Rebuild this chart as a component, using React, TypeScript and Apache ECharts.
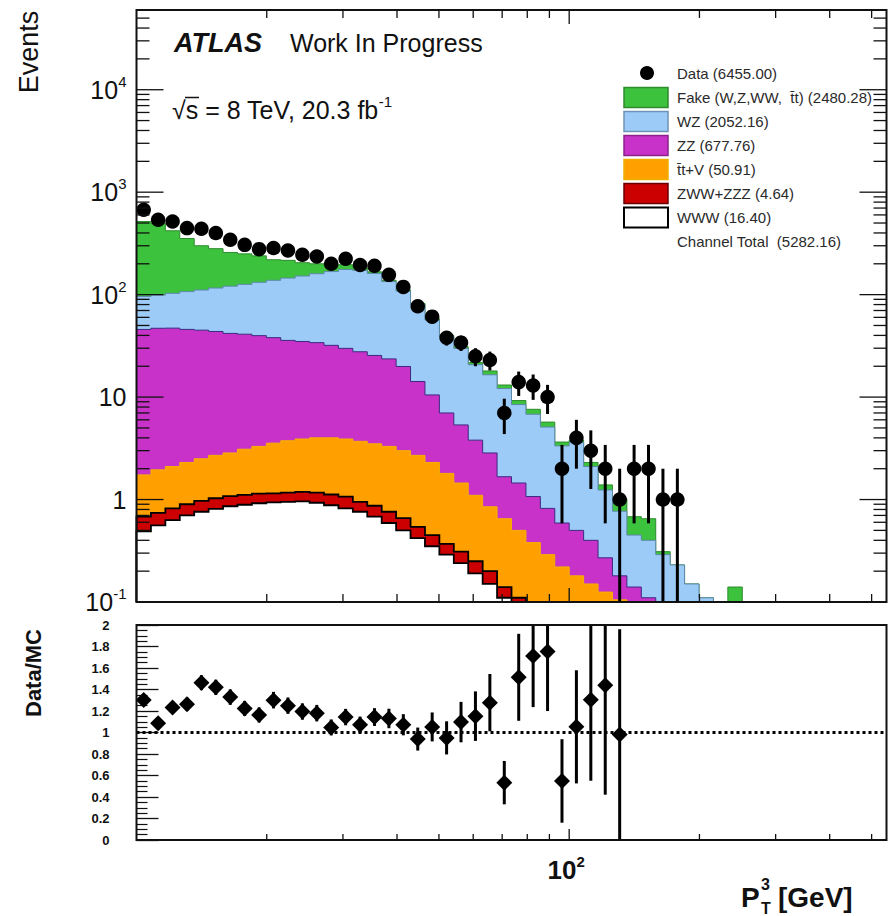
import React, { useEffect, useRef } from 'react';
import * as echarts from 'echarts';

const FONT = "'Liberation Sans', Arial, Helvetica, sans-serif";

// axis ranges
const X_MIN = 10;
const X_MAX = 541.17;
const Y_MIN = 0.1;
const Y_MAX = 60000;

// log-spaced bin edges (GeV)
const BIN_EDGES = [
  10, 10.798, 11.659, 12.589, 13.594, 14.678, 15.849, 17.113, 18.478, 19.953,
  21.544, 23.263, 25.119, 27.123, 29.286, 31.623, 34.145, 36.869, 39.811, 42.987,
  46.416, 50.119, 54.117, 58.434, 63.096, 68.129, 73.564, 79.433, 85.77, 92.612,
  100, 107.98, 116.59, 125.89, 135.94, 146.78, 158.49, 171.13, 184.78, 199.53,
  215.44, 232.63, 251.19, 271.23,
];

// observed events per bin
const DATA = [
  673, 537, 518, 446, 439, 399, 343, 306, 278, 285, 270, 245, 236, 200, 224, 195, 191, 156, 119, 77,
  61, 38, 34, 25, 23, 7, 14, 13, 10, 2, 4, 3, 2, 1, 2, 2, 1, 1, 0, 0, 0, 0, 0,
];

// background components per bin
const FAKE = [
  421, 396, 317, 246, 189, 165, 137, 124, 107, 81, 71, 53, 40, 23, 20, 10, 6, 4, 3, 2,
  1.5, 1.2, 1.2, 1.0, 1.5, 1.0, 0.8, 0.8, 0.6, 0.3, 0.2, 0.2, 0.15, 0.25, 0.23, 0.25, 0.02, 0, 0, 0, 0, 0.14, 0,
];
const WZ = [
  50.3, 52, 55.9, 61.2, 66, 72.3, 79.2, 84.9, 92.2, 100, 109.3, 117.1, 126, 136, 146, 144.3, 135.5, 110.4, 88.1, 65.8,
  46, 31.8, 24.45, 16.9, 13.65, 10.45, 7.0, 5.73, 4.28, 2.75, 3.1, 1.7, 0.97, 0.59, 0.31, 0.29, 0.29, 0.23, 0.15, 0.11, 0.09, 0, 0,
];
const ZZ = [
  44, 45, 45, 43.5, 42.5, 41, 39, 38, 36.5, 34.5, 32, 31, 30, 28, 26, 24, 22, 20.3, 16.9, 11.5,
  8.2, 5.2, 3.9, 2.7, 2.0, 1.02, 0.95, 0.69, 0.53, 0.37, 0.32, 0.25, 0.145, 0.075, 0.05, 0.03, 0, 0, 0, 0, 0, 0, 0,
];
const TTV = [
  1.06, 1.21, 1.28, 1.4, 1.53, 1.67, 1.77, 1.99, 2.16, 2.4, 2.58, 2.71, 2.83, 2.88, 2.83, 2.75, 2.63, 2.54, 2.34, 2.16,
  1.85, 1.43, 1.14, 0.85, 0.65, 0.51, 0.39, 0.31, 0.29, 0.22, 0.18, 0.15, 0.125, 0.105, 0.09, 0.08, 0, 0, 0, 0, 0, 0, 0,
];
const ZWW = [
  0.19, 0.18, 0.19, 0.2, 0.21, 0.22, 0.22, 0.22, 0.22, 0.21, 0.22, 0.23, 0.24, 0.24, 0.25, 0.19, 0.19, 0.17, 0.16, 0.12,
  0.1, 0.08, 0.07, 0.06, 0.05, 0.03, 0.04, 0.03, 0, 0, 0, 0, 0, 0, 0, 0, 0, 0, 0, 0, 0, 0, 0,
];
const WWW = [
  0.49, 0.56, 0.63, 0.7, 0.76, 0.81, 0.86, 0.89, 0.92, 0.94, 0.95, 0.96, 0.93, 0.88, 0.82, 0.76, 0.68, 0.59, 0.5, 0.42,
  0.35, 0.29, 0.24, 0.19, 0.15, 0.11, 0.07, 0.04, 0, 0, 0, 0, 0, 0, 0, 0, 0, 0, 0, 0, 0, 0, 0,
];

// ticks and labels
const X_TICKS = [20, 30, 40, 50, 60, 70, 80, 90, 100, 200, 300, 400, 500];
const X_MAJOR_TICK = 100;
const Y_DECADES = [0.1, 1, 10, 100, 1000, 10000];
const Y_MINOR_MANTISSA = [2, 3, 4, 5, 6, 7, 8, 9];
const Y_LABEL_BASE = ['10', '1', '10', '10', '10', '10'];
const Y_LABEL_EXP = ['-1', '', '', '2', '3', '4'];

const LEGEND_LABELS = [
  'Data (6455.00)',
  'Fake (W,Z,WW,  t\u0304t) (2480.28)',
  'WZ (2052.16)',
  'ZZ (677.76)',
  't\u0304t+V (50.91)',
  'ZWW+ZZZ (4.64)',
  'WWW (16.40)',
  'Channel Total  (5282.16)',
];

// stack layers, bottom to top
const LAYERS = [
  { values: WWW, fill: '#ffffff', line: '#000000', lw: 1.8 },
  { values: ZWW, fill: '#cc0000', line: '#000000', lw: 1.8 },
  { values: TTV, fill: '#ffa000', line: '#f3b200', lw: 1 },
  { values: ZZ, fill: '#c832c8', line: '#3d2a80', lw: 1 },
  { values: WZ, fill: '#9ccbf7', line: '#5f88aa', lw: 1 },
  { values: FAKE, fill: '#3cc23c', line: '#2e8b2e', lw: 1 },
];

const NB = BIN_EDGES.length - 1;

function buildOption() {
  const cum: number[][] = [];
  LAYERS.forEach((l, k) => {
    cum.push(
      Array.from({ length: NB }, (_, i) => (k > 0 ? cum[k - 1][i] : 0) + (l.values[i] || 0))
    );
  });
  const total = cum[cum.length - 1];
  const center = (i: number) => Math.sqrt(BIN_EDGES[i] * BIN_EDGES[i + 1]);

  const series: any[] = [];

  // stacked histograms, drawn from the largest cumulative down, each as one staircase polygon
  for (let k = LAYERS.length - 1; k >= 0; k--) {
    const l = LAYERS[k];
    const c = cum[k];
    series.push({
      type: 'custom',
      xAxisIndex: 0,
      yAxisIndex: 0,
      silent: true,
      z: 2,
      encode: { x: 0, y: 1 },
      data: [[X_MIN, Y_MIN]],
      renderItem: (params: any, api: any) => {
        const pts: number[][] = [];
        const yBot = api.coord([X_MIN, Y_MIN])[1];
        pts.push([api.coord([BIN_EDGES[0], Y_MIN])[0], yBot]);
        for (let i = 0; i < NB; i++) {
          const v = c[i];
          const y = v > Y_MIN ? api.coord([BIN_EDGES[i], Math.min(v, Y_MAX)])[1] : yBot;
          pts.push([api.coord([BIN_EDGES[i], Y_MIN])[0], y]);
          pts.push([api.coord([BIN_EDGES[i + 1], Y_MIN])[0], y]);
        }
        pts.push([api.coord([BIN_EDGES[NB], Y_MIN])[0], yBot]);
        return {
          type: 'group',
          children: [
            { type: 'polygon', shape: { points: pts }, style: { fill: l.fill } },
            { type: 'polyline', shape: { points: pts }, style: { stroke: l.line, lineWidth: l.lw, fill: 'none' } },
          ],
        };
      },
    });
  }

  // data error bars
  const dataPts = DATA.map((n, i) => [center(i), n, Math.sqrt(n)]).filter((d) => d[1] > 0);
  series.push({
    type: 'custom',
    xAxisIndex: 0,
    yAxisIndex: 0,
    silent: true,
    z: 5,
    encode: { x: 0, y: 1 },
    data: dataPts,
    renderItem: (params: any, api: any) => {
      const x = api.value(0);
      const n = api.value(1);
      const e = api.value(2);
      const p1 = api.coord([x, Math.min(n + e, Y_MAX)]);
      const p2 = api.coord([x, Math.max(n - e, Y_MIN)]);
      return {
        type: 'line',
        shape: { x1: p1[0], y1: p1[1], x2: p2[0], y2: p2[1] },
        style: { stroke: '#000', lineWidth: 3 },
      };
    },
  });
  series.push({
    type: 'scatter',
    xAxisIndex: 0,
    yAxisIndex: 0,
    silent: true,
    z: 6,
    symbol: 'circle',
    symbolSize: 14.5,
    itemStyle: { color: '#000', opacity: 1 },
    data: dataPts.map((d) => [d[0], d[1]]),
  });

  // ratio panel
  const ratioPts = DATA.map((n, i) => [center(i), total[i] > 0 ? n / total[i] : 0, total[i] > 0 ? Math.sqrt(n) / total[i] : 0])
    .filter((d, i) => DATA[i] > 0 && total[i] > 0 && d[1] <= 2);
  series.push({
    type: 'line',
    xAxisIndex: 1,
    yAxisIndex: 1,
    silent: true,
    z: 3,
    symbol: 'none',
    data: [[X_MIN, 1], [X_MAX, 1]],
    lineStyle: { color: '#000', width: 3.2, type: [3, 3] },
  });
  series.push({
    type: 'custom',
    xAxisIndex: 1,
    yAxisIndex: 1,
    silent: true,
    z: 5,
    encode: { x: 0, y: 1 },
    data: ratioPts,
    renderItem: (params: any, api: any) => {
      const x = api.value(0);
      const r = api.value(1);
      const e = api.value(2);
      const p1 = api.coord([x, Math.min(r + e, 2)]);
      const p2 = api.coord([x, Math.max(r - e, 0)]);
      return {
        type: 'line',
        shape: { x1: p1[0], y1: p1[1], x2: p2[0], y2: p2[1] },
        style: { stroke: '#000', lineWidth: 3 },
      };
    },
  });
  series.push({
    type: 'scatter',
    xAxisIndex: 1,
    yAxisIndex: 1,
    silent: true,
    z: 6,
    symbol: 'diamond',
    symbolSize: 16,
    itemStyle: { color: '#000', opacity: 1 },
    data: ratioPts.map((d) => [d[0], d[1]]),
  });

  // x ticks (top panel: bottom + top; ratio: bottom)
  const xTicks = (gi: number, yLo: number, yHi: number, minor: number, major: number, both: boolean) => ({
    type: 'custom',
    xAxisIndex: gi,
    yAxisIndex: gi,
    silent: true,
    z: 20,
    encode: { x: 0, y: 1 },
    data: X_TICKS.map((v) => [v, yLo, v === X_MAJOR_TICK ? 1 : 0]),
    renderItem: (params: any, api: any) => {
      const v = api.value(0);
      const len = api.value(2) === 1 ? major : minor;
      const pb = api.coord([v, yLo]);
      const pt = api.coord([v, yHi]);
      const ch: any[] = [
        { type: 'line', shape: { x1: pb[0], y1: pb[1], x2: pb[0], y2: pb[1] - len }, style: { stroke: '#111', lineWidth: 1.3 } },
      ];
      if (both) {
        ch.push({ type: 'line', shape: { x1: pt[0], y1: pt[1], x2: pt[0], y2: pt[1] + len }, style: { stroke: '#111', lineWidth: 1.3 } });
      }
      return { type: 'group', children: ch };
    },
  });
  series.push(xTicks(0, Y_MIN, Y_MAX, 8, 14, true));
  series.push(xTicks(1, 0, 2, 6, 11, false));

  // y ticks of the top panel (left + right)
  const yTickData: number[][] = [];
  Y_DECADES.forEach((d) => {
    yTickData.push([X_MIN, d, 1]);
    Y_MINOR_MANTISSA.forEach((m) => {
      const v = d * m;
      if (v < Y_MAX) yTickData.push([X_MIN, v, 0]);
    });
  });
  series.push({
    type: 'custom',
    xAxisIndex: 0,
    yAxisIndex: 0,
    silent: true,
    z: 20,
    encode: { x: 0, y: 1 },
    data: yTickData,
    renderItem: (params: any, api: any) => {
      const v = api.value(1);
      const len = api.value(2) === 1 ? 27 : 13;
      const pl = api.coord([X_MIN, v]);
      const pr = api.coord([X_MAX, v]);
      return {
        type: 'group',
        children: [
          { type: 'line', shape: { x1: pl[0], y1: pl[1], x2: pl[0] + len, y2: pl[1] }, style: { stroke: '#111', lineWidth: 1.3 } },
          { type: 'line', shape: { x1: pr[0], y1: pr[1], x2: pr[0] - len, y2: pr[1] }, style: { stroke: '#111', lineWidth: 1.3 } },
        ],
      };
    },
  });

  // y labels of the top panel
  series.push({
    type: 'custom',
    xAxisIndex: 0,
    yAxisIndex: 0,
    silent: true,
    z: 20,
    encode: { x: 0, y: 1 },
    data: Y_DECADES.map((v, i) => [X_MIN, v, i]),
    renderItem: (params: any, api: any) => {
      const i = api.value(2);
      const p = api.coord([X_MIN, api.value(1)]);
      const base = Y_LABEL_BASE[i];
      const exp = Y_LABEL_EXP[i];
      return {
        type: 'text',
        x: p[0] - 10,
        y: p[1],
        style: {
          text: exp ? `{b|${base}}{s|${exp}}` : `{b|${base}}`,
          align: 'right',
          verticalAlign: 'middle',
          rich: {
            b: { fontSize: 25, fontFamily: FONT, fill: '#111', lineHeight: 32 },
            s: { fontSize: 15, fontFamily: FONT, fill: '#111', verticalAlign: 'top' },
          },
        },
      };
    },
  });

  // x label of the ratio panel
  series.push({
    type: 'custom',
    xAxisIndex: 1,
    yAxisIndex: 1,
    silent: true,
    z: 20,
    encode: { x: 0, y: 1 },
    data: [[X_MAJOR_TICK, 0]],
    renderItem: (params: any, api: any) => {
      const p = api.coord([api.value(0), 0]);
      return {
        type: 'text',
        x: p[0] - 3,
        y: p[1] + 30,
        style: {
          text: '{b|10}{s|2}',
          align: 'center',
          verticalAlign: 'middle',
          rich: {
            b: { fontSize: 26, fontWeight: 'bold', fontFamily: FONT, fill: '#111', lineHeight: 32 },
            s: { fontSize: 15, fontWeight: 'bold', fontFamily: FONT, fill: '#111', verticalAlign: 'top' },
          },
        },
      };
    },
  });

  // legend + texts
  const rowsY = [73, 97.5, 121.5, 145.5, 169.5, 193.5, 217.5, 241.5];
  const boxStroke = ['#2e8b2e', '#6d93b8', '#8a228a', '#f0b000', '#6a0000', '#000000'];
  const boxFill = ['#3cc23c', '#9ccbf7', '#c832c8', '#ffa000', '#cc0000', '#ffffff'];
  const graphic: any[] = [];
  graphic.push({ type: 'circle', shape: { cx: 647, cy: rowsY[0], r: 7 }, style: { fill: '#000' }, z: 50 });
  for (let k = 0; k < 6; k++) {
    graphic.push({
      type: 'rect',
      shape: { x: 624, y: rowsY[k + 1] - 10, width: 44, height: 20 },
      style: { fill: boxFill[k], stroke: boxStroke[k], lineWidth: k === 5 ? 2 : 1.5 },
      z: 50,
    });
  }
  LEGEND_LABELS.forEach((t, i) => {
    graphic.push({
      type: 'text',
      x: 677,
      y: rowsY[i],
      style: { text: t, fontSize: 15, fontFamily: FONT, fill: '#2a2a2a', verticalAlign: 'middle', align: 'left' },
      z: 50,
    });
  });
  graphic.push({
    type: 'text', x: 29, y: 52, rotation: Math.PI / 2,
    style: { text: 'Events', fontSize: 27, fontFamily: FONT, fill: '#111', align: 'center', verticalAlign: 'middle' }, z: 50,
  });
  graphic.push({
    type: 'text', x: 33, y: 673, rotation: Math.PI / 2,
    style: { text: 'Data/MC', fontSize: 22, fontWeight: 'bold', fontFamily: FONT, fill: '#111', align: 'center', verticalAlign: 'middle' }, z: 50,
  });
  graphic.push({
    type: 'text', x: 174, y: 43,
    style: { text: 'ATLAS', fontSize: 27, fontWeight: 'bold', fontStyle: 'italic', fontFamily: FONT, fill: '#111', verticalAlign: 'middle' }, z: 50,
  });
  graphic.push({
    type: 'text', x: 290, y: 43,
    style: { text: 'Work In Progress', fontSize: 25, fontFamily: FONT, fill: '#111', verticalAlign: 'middle' }, z: 50,
  });
  graphic.push({
    type: 'text', x: 172, y: 110,
    style: {
      text: '{a|\u221As = 8 TeV, 20.3 fb}{s|-1}',
      verticalAlign: 'middle',
      rich: {
        a: { fontSize: 25, fontFamily: FONT, fill: '#111', lineHeight: 32 },
        s: { fontSize: 15, fontFamily: FONT, fill: '#111', verticalAlign: 'top' },
      },
    },
    z: 50,
  });
  graphic.push({ type: 'line', shape: { x1: 185, y1: 97.5, x2: 199, y2: 97.5 }, style: { stroke: '#111', lineWidth: 1.5 }, z: 50 });
  graphic.push({
    type: 'text', x: 741, y: 897,
    style: { text: 'P', fontSize: 28, fontWeight: 'bold', fontFamily: FONT, fill: '#111', verticalAlign: 'middle' }, z: 50,
  });
  graphic.push({
    type: 'text', x: 761, y: 884,
    style: { text: '3', fontSize: 16, fontWeight: 'bold', fontFamily: FONT, fill: '#111', verticalAlign: 'middle' }, z: 50,
  });
  graphic.push({
    type: 'text', x: 761, y: 908,
    style: { text: 'T', fontSize: 16, fontWeight: 'bold', fontFamily: FONT, fill: '#111', verticalAlign: 'middle' }, z: 50,
  });
  graphic.push({
    type: 'text', x: 778, y: 897,
    style: { text: '[GeV]', fontSize: 28, fontWeight: 'bold', fontFamily: FONT, fill: '#111', verticalAlign: 'middle' }, z: 50,
  });
  // frames
  graphic.push({ type: 'rect', shape: { x: 136.5, y: 10, width: 750, height: 592 }, style: { fill: 'none', stroke: '#111', lineWidth: 2 }, z: 100 });
  graphic.push({ type: 'rect', shape: { x: 136.5, y: 625, width: 750, height: 215 }, style: { fill: 'none', stroke: '#111', lineWidth: 2 }, z: 100 });

  const hiddenAxis = {
    axisLine: { show: false },
    axisTick: { show: false },
    axisLabel: { show: false },
    splitLine: { show: false },
  };

  return {
    animation: false,
    backgroundColor: '#ffffff',
    grid: [
      { left: 136.5, top: 10, width: 750, height: 592 },
      { left: 136.5, top: 625, width: 750, height: 215 },
    ],
    xAxis: [
      { type: 'log', logBase: 10, min: X_MIN, max: X_MAX, gridIndex: 0, ...hiddenAxis },
      { type: 'log', logBase: 10, min: X_MIN, max: X_MAX, gridIndex: 1, ...hiddenAxis },
    ],
    yAxis: [
      { type: 'log', logBase: 10, min: Y_MIN, max: Y_MAX, gridIndex: 0, ...hiddenAxis },
      {
        type: 'value',
        min: 0,
        max: 2,
        interval: 0.2,
        gridIndex: 1,
        axisLine: { show: false },
        axisTick: { show: true, inside: true, length: 22, lineStyle: { color: '#111', width: 1.3 } },
        minorTick: { show: true, splitNumber: 4, length: 11, lineStyle: { color: '#111', width: 1.2 } },
        axisLabel: { fontSize: 13, fontWeight: 'bold', fontFamily: FONT, color: '#111', margin: 27 },
        splitLine: { show: false },
        minorSplitLine: { show: false },
      },
    ],
    series,
    graphic,
  };
}

export default function App() {
  const ref = useRef<HTMLDivElement>(null);
  useEffect(() => {
    if (!ref.current) return;
    const chart = echarts.init(ref.current, null, { renderer: 'svg' });
    chart.setOption(buildOption() as any);
    return () => chart.dispose();
  }, []);
  return (
    <div
      ref={ref}
      style={{ position: 'absolute', left: 0, top: 0, width: 894, height: 916, background: '#fff' }}
    />
  );
}
